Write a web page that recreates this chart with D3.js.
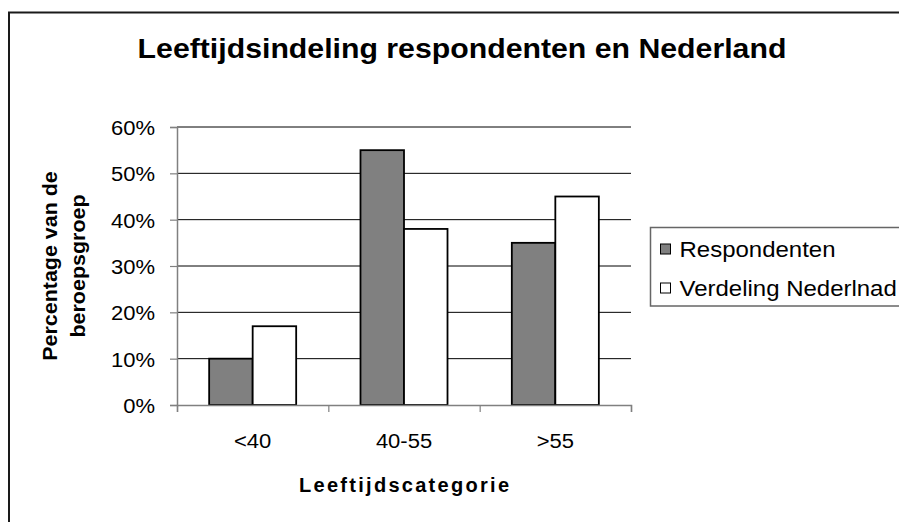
<!DOCTYPE html>
<html>
<head>
<meta charset="utf-8">
<script src="https://cdn.jsdelivr.net/npm/d3@7"></script>
<style>
body { margin: 0; background: #fff; }
text { font-family: "Liberation Sans", Arial, sans-serif; fill: #000; }
</style>
</head>
<body>
<div id="chart"></div>
<script>
// chart values
var categories = ["<40", "40-55", ">55"];
var seriesNames = ["Respondenten", "Verdeling Nederlnad"];
var respondenten = [0.10, 0.55, 0.35];
var verdelingNederland = [0.17, 0.38, 0.45];
var yTicks = [0, 0.1, 0.2, 0.3, 0.4, 0.5, 0.6];
var seriesColors = ["#808080", "#ffffff"];

var width = 899, height = 522;
var margin = {top: 127, right: 268, bottom: 117, left: 177};
var plotW = width - margin.left - margin.right,
    plotH = height - margin.top - margin.bottom;

// the old excel fonts are a bit wider than liberation sans
var SX = 1.1;
function stretch(sel, sx) {
    sel.each(function() {
        var len = this.getComputedTextLength();
        d3.select(this).attr("textLength", len * sx).attr("lengthAdjust", "spacingAndGlyphs");
    });
}

var rows = categories.map(function(c, i) {
    return {cat: c, values: [respondenten[i], verdelingNederland[i]]};
});

var svg = d3.select("#chart")
    .append("svg")
    .attr("width", width)
    .attr("height", height);

// chart border (cropped on the right and bottom)
svg.append("rect")
    .attr("x", 9)
    .attr("y", 12.5)
    .attr("width", 1000)
    .attr("height", 600)
    .attr("fill", "none")
    .attr("stroke", "#1a1a1a")
    .attr("stroke-width", 2);

svg.append("text")
    .attr("x", 462)
    .attr("y", 58)
    .attr("text-anchor", "middle")
    .style("font-size", "27.5px")
    .style("font-weight", "bold")
    .text("Leeftijdsindeling respondenten en Nederland")
    .call(stretch, SX);

var g = svg.append("g")
    .attr("transform", "translate(" + margin.left + "," + margin.top + ")");

var y = d3.scaleLinear()
    .domain([0, 0.6])
    .range([plotH, 0]);

var x0 = d3.scaleBand()
    .domain(categories)
    .range([0, plotW])
    .paddingInner(0.425)
    .paddingOuter(0.2125);

var x1 = d3.scaleBand()
    .domain(seriesNames)
    .range([0, x0.bandwidth()]);

var xEdge = d3.scaleLinear()
    .domain([0, categories.length])
    .range([0, plotW]);

// gridlines
g.append("g")
    .selectAll("line")
    .data(yTicks.filter(function(d) { return d > 0; }))
    .enter()
    .append("line")
    .attr("x1", 0)
    .attr("x2", plotW)
    .attr("y1", function(d) { return y(d); })
    .attr("y2", function(d) { return y(d); })
    .attr("stroke", "#000")
    .attr("stroke-width", 1);

// bars
g.append("g")
    .selectAll("g")
    .data(rows)
    .enter()
    .append("g")
    .attr("transform", function(d) { return "translate(" + x0(d.cat) + ",0)"; })
    .selectAll("rect")
    .data(function(d) { return d.values; })
    .enter()
    .append("rect")
    .attr("x", function(d, i) { return x1(seriesNames[i]); })
    .attr("width", x1.bandwidth())
    .attr("y", function(d) { return y(d); })
    .attr("height", function(d) { return plotH - y(d); })
    .attr("fill", function(d, i) { return seriesColors[i]; })
    .attr("stroke", "#000")
    .attr("stroke-width", 1.8);

// y axis
var yAxis = g.append("g")
    .call(d3.axisLeft(y).tickValues(yTicks).tickFormat(d3.format(".0%")).tickSize(7).tickPadding(15));
yAxis.select(".domain").attr("stroke", "#808080").attr("stroke-width", 1.5);
yAxis.selectAll(".tick line").attr("stroke", "#808080").attr("stroke-width", 1.2);
yAxis.selectAll("text")
    .attr("dy", "0.38em")
    .style("font-size", "20px")
    .style("font-family", "'Liberation Sans', Arial, sans-serif")
    .call(stretch, SX);

// x axis: tick marks on category edges, labels in the middle
var xAxis = g.append("g")
    .attr("transform", "translate(0," + plotH + ")")
    .call(d3.axisBottom(xEdge).tickValues(d3.range(categories.length + 1)).tickFormat("").tickSize(7));
xAxis.select(".domain").attr("stroke", "#808080").attr("stroke-width", 1.5);
xAxis.selectAll(".tick line").attr("stroke", "#808080").attr("stroke-width", 1.2);

var xLabels = g.append("g")
    .attr("transform", "translate(0," + plotH + ")")
    .call(d3.axisBottom(x0).tickSize(0).tickPadding(29));
xLabels.select(".domain").remove();
xLabels.selectAll("text")
    .style("font-size", "20px")
    .style("font-family", "'Liberation Sans', Arial, sans-serif")
    .call(stretch, SX);

// axis titles
g.append("text")
    .attr("x", plotW / 2)
    .attr("y", 365)
    .attr("text-anchor", "middle")
    .attr("textLength", 210)
    .attr("lengthAdjust", "spacing")
    .style("font-size", "20px")
    .style("font-weight", "bold")
    .text("Leeftijdscategorie");

var yTitle = svg.append("text")
    .attr("transform", "translate(0," + (margin.top + plotH / 2) + ") rotate(-90)")
    .attr("text-anchor", "middle")
    .style("font-size", "19.5px")
    .style("font-weight", "bold");
yTitle.append("tspan").attr("x", 0).attr("y", 57).text("Percentage van de").call(stretch, SX);
yTitle.append("tspan").attr("x", 0).attr("y", 85).text("beroepsgroep").call(stretch, SX);

// legend
var legend = svg.append("g").attr("transform", "translate(650.5,227.5)");
legend.append("rect")
    .attr("width", 300)
    .attr("height", 78.5)
    .attr("fill", "#fff")
    .attr("stroke", "#666")
    .attr("stroke-width", 1.5);

var items = legend.selectAll("g.item")
    .data(seriesNames)
    .enter()
    .append("g")
    .attr("class", "item")
    .attr("transform", function(d, i) { return "translate(0," + (21.5 + i * 39) + ")"; });
items.append("rect")
    .attr("x", 10)
    .attr("y", -5)
    .attr("width", 10)
    .attr("height", 10)
    .attr("fill", function(d, i) { return seriesColors[i]; })
    .attr("stroke", "#000")
    .attr("stroke-width", 1);
items.append("text")
    .attr("x", 29)
    .attr("y", 7.5)
    .style("font-size", "21.8px")
    .text(function(d) { return d; })
    .call(stretch, SX);
</script>
</body>
</html>
